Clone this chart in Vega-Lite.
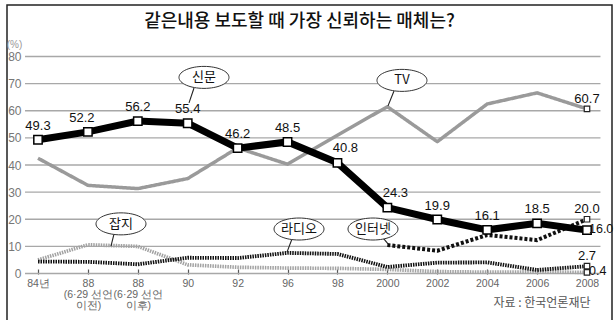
{
  "$schema": "https://vega.github.io/schema/vega-lite/v6.json",
  "width": 605,
  "height": 317,
  "autosize": {"type": "none"},
  "padding": {"left": 7, "top": 5, "right": 2, "bottom": -2},
  "background": "white",
  "config": {
    "view": {"stroke": "#222", "strokeWidth": 1.5},
    "font": "Noto Sans CJK KR"
  },
  "title": {
    "text": "같은내용 보도할 때 가장 신뢰하는 매체는?",
    "anchor": "middle",
    "dx": -10,
    "dy": 44,
    "offset": 0,
    "baseline": "bottom",
    "font": "Noto Sans CJK KR",
    "fontSize": 18,
    "fontWeight": 500,
    "color": "#111"
  },
  "datasets": {
    "trend": [
      {"media": "신문", "t": 0, "period": "84년", "share": 49.3},
      {"media": "신문", "t": 1, "period": "88 (6·29 선언 이전)", "share": 52.2},
      {"media": "신문", "t": 2, "period": "88 (6·29 선언 이후)", "share": 56.2},
      {"media": "신문", "t": 3, "period": "90", "share": 55.4},
      {"media": "신문", "t": 4, "period": "92", "share": 46.2},
      {"media": "신문", "t": 5, "period": "96", "share": 48.5},
      {"media": "신문", "t": 6, "period": "98", "share": 40.8},
      {"media": "신문", "t": 7, "period": "2000", "share": 24.3},
      {"media": "신문", "t": 8, "period": "2002", "share": 19.9},
      {"media": "신문", "t": 9, "period": "2004", "share": 16.1},
      {"media": "신문", "t": 10, "period": "2006", "share": 18.5},
      {"media": "신문", "t": 11, "period": "2008", "share": 16.0},
      {"media": "TV", "t": 0, "period": "84년", "share": 42.5},
      {"media": "TV", "t": 1, "period": "88 (6·29 선언 이전)", "share": 32.5},
      {"media": "TV", "t": 2, "period": "88 (6·29 선언 이후)", "share": 31.3},
      {"media": "TV", "t": 3, "period": "90", "share": 35.0},
      {"media": "TV", "t": 4, "period": "92", "share": 46.3},
      {"media": "TV", "t": 5, "period": "96", "share": 40.3},
      {"media": "TV", "t": 6, "period": "98", "share": 51.0},
      {"media": "TV", "t": 7, "period": "2000", "share": 61.5},
      {"media": "TV", "t": 8, "period": "2002", "share": 48.6},
      {"media": "TV", "t": 9, "period": "2004", "share": 62.5},
      {"media": "TV", "t": 10, "period": "2006", "share": 66.6},
      {"media": "TV", "t": 11, "period": "2008", "share": 60.7},
      {"media": "잡지", "t": 0, "period": "84년", "share": 5.0},
      {"media": "잡지", "t": 1, "period": "88 (6·29 선언 이전)", "share": 10.6},
      {"media": "잡지", "t": 2, "period": "88 (6·29 선언 이후)", "share": 10.0},
      {"media": "잡지", "t": 3, "period": "90", "share": 3.2},
      {"media": "잡지", "t": 4, "period": "92", "share": 2.3},
      {"media": "잡지", "t": 5, "period": "96", "share": 2.0},
      {"media": "잡지", "t": 6, "period": "98", "share": 1.9},
      {"media": "잡지", "t": 7, "period": "2000", "share": 1.5},
      {"media": "잡지", "t": 8, "period": "2002", "share": 0.7},
      {"media": "잡지", "t": 9, "period": "2004", "share": 0.5},
      {"media": "잡지", "t": 10, "period": "2006", "share": 0.6},
      {"media": "잡지", "t": 11, "period": "2008", "share": 0.4},
      {"media": "라디오", "t": 0, "period": "84년", "share": 4.4},
      {"media": "라디오", "t": 1, "period": "88 (6·29 선언 이전)", "share": 4.3},
      {"media": "라디오", "t": 2, "period": "88 (6·29 선언 이후)", "share": 3.4},
      {"media": "라디오", "t": 3, "period": "90", "share": 5.8},
      {"media": "라디오", "t": 4, "period": "92", "share": 5.7},
      {"media": "라디오", "t": 5, "period": "96", "share": 7.6},
      {"media": "라디오", "t": 6, "period": "98", "share": 7.2},
      {"media": "라디오", "t": 7, "period": "2000", "share": 2.4},
      {"media": "라디오", "t": 8, "period": "2002", "share": 4.0},
      {"media": "라디오", "t": 9, "period": "2004", "share": 4.1},
      {"media": "라디오", "t": 10, "period": "2006", "share": 1.3},
      {"media": "라디오", "t": 11, "period": "2008", "share": 2.7},
      {"media": "인터넷", "t": 7, "period": "2000", "share": 10.5},
      {"media": "인터넷", "t": 8, "period": "2002", "share": 8.4},
      {"media": "인터넷", "t": 9, "period": "2004", "share": 14.2},
      {"media": "인터넷", "t": 10, "period": "2006", "share": 12.3},
      {"media": "인터넷", "t": 11, "period": "2008", "share": 20.0}
    ],
    "grid": [
      {"share": 0}, {"share": 10}, {"share": 20}, {"share": 30}, {"share": 40},
      {"share": 50}, {"share": 60}, {"share": 70}, {"share": 80}
    ],
    "callouts": [
      {"label": "신문", "t": 3.326, "share": 72.3, "tailT": 3.126, "tailShare": 68.4, "tipT": 3.026, "tipShare": 62.9},
      {"label": "TV", "t": 7.293, "share": 71.2, "tailT": 7.133, "tailShare": 67.3, "tipT": 7.013, "tipShare": 61.8},
      {"label": "잡지", "t": 1.663, "share": 18.3, "tailT": 1.523, "tailShare": 14.6, "tipT": 1.463, "tipShare": 10.1},
      {"label": "라디오", "t": 5.23, "share": 16.4, "tailT": 5.089, "tailShare": 12.7, "tipT": 4.989, "tipShare": 7.9},
      {"label": "인터넷", "t": 6.712, "share": 16.4, "tailT": 6.913, "tailShare": 13.1, "tipT": 7.013, "tipShare": 10.9}
    ]
  },
  "layer": [
    {
      "data": {"name": "grid"},
      "mark": {"type": "rule", "color": "#a8a8a8", "strokeWidth": 1.4},
      "encoding": {
        "y": {
          "field": "share", "type": "quantitative",
          "scale": {"domain": [-17.88, 98.99], "nice": false, "zero": false},
          "axis": {
            "orient": "left", "offset": -15,
            "values": [0, 10, 20, 30, 40, 50, 60, 70, 80],
            "domain": false, "ticks": false, "grid": false,
            "labelOverlap": false, "labelBound": false, "labelFlush": false,
            "labelPadding": 1, "labelFont": "Liberation Sans",
            "labelFontSize": 12, "labelColor": "#777",
            "title": "(%)", "titleAngle": 0, "titleX": -8, "titleY": 39,
            "titleAlign": "center", "titleBaseline": "middle",
            "titleFont": "Liberation Sans",
            "titleFontSize": 10, "titleFontWeight": "normal", "titleColor": "#999"
          }
        },
        "x": {
          "datum": -0.26, "type": "quantitative",
          "scale": {"domain": [-0.621, 11.501], "nice": false, "zero": false},
          "axis": {
            "orient": "bottom", "offset": -53,
            "values": [0, 1, 2, 3, 4, 5, 6, 7, 8, 9, 10, 11],
            "labelExpr": "datum.value == 0 ? '84년' : datum.value == 1 ? ['88', '(6·29 선언', '이전)'] : datum.value == 2 ? ['88', '(6·29 선언', '이후)'] : datum.value == 3 ? '90' : datum.value == 4 ? '92' : datum.value == 5 ? '96' : datum.value == 6 ? '98' : datum.value == 7 ? '2000' : datum.value == 8 ? '2002' : datum.value == 9 ? '2004' : datum.value == 10 ? '2006' : '2008'",
            "domain": false, "grid": false,
            "ticks": true, "tickSize": 5, "tickColor": "#555", "tickWidth": 1.2,
            "labelPadding": 4, "labelFont": "Liberation Sans",
            "labelFontSize": 10.5, "labelColor": "#666", "labelLineHeight": 11,
            "labelOverlap": false, "labelBound": false, "labelFlush": false,
            "title": "자료 : 한국언론재단",
            "titleX": 583, "titleY": 33, "titleAlign": "right", "titleAnchor": "end",
            "titleBaseline": "middle", "titleFont": "Noto Sans CJK KR",
            "titleFontSize": 12, "titleFontWeight": "normal", "titleColor": "#555"
          }
        },
        "x2": {"datum": 11.27}
      }
    },
    {
      "data": {"name": "trend"},
      "transform": [{"filter": "datum.media != '신문'"}],
      "mark": {"type": "line", "strokeCap": "butt", "strokeJoin": "round"},
      "encoding": {
        "x": {"field": "t", "type": "quantitative", "axis": {"values": [0, 1, 2, 3, 4, 5, 6, 7, 8, 9, 10, 11]}},
        "y": {"field": "share", "type": "quantitative", "axis": {"values": [0, 10, 20, 30, 40, 50, 60, 70, 80]}},
        "detail": {"field": "media"},
        "color": {
          "field": "media", "type": "nominal", "legend": null,
          "scale": {"domain": ["TV", "잡지", "라디오", "인터넷"], "range": ["#9a9a9a", "#a2a2a2", "#111111", "#111111"]}
        },
        "strokeWidth": {
          "field": "media", "type": "nominal", "legend": null,
          "scale": {"domain": ["TV", "잡지", "라디오", "인터넷"], "range": [3.5, 4, 4, 3.5]}
        },
        "strokeDash": {
          "field": "media", "type": "nominal", "legend": null,
          "scale": {"domain": ["TV", "잡지", "라디오", "인터넷"], "range": [[1, 0], [1.5, 1], [1.5, 1], [3, 2]]}
        }
      }
    },
    {
      "data": {"name": "trend"},
      "transform": [{"filter": "datum.media == '신문'"}],
      "mark": {"type": "line", "color": "#000", "strokeWidth": 7, "strokeJoin": "miter"},
      "encoding": {
        "x": {"field": "t", "type": "quantitative", "axis": {"values": [0, 1, 2, 3, 4, 5, 6, 7, 8, 9, 10, 11]}},
        "y": {"field": "share", "type": "quantitative", "axis": {"values": [0, 10, 20, 30, 40, 50, 60, 70, 80]}}
      }
    },
    {
      "data": {"name": "trend"},
      "transform": [{"filter": "datum.media == '신문'"}],
      "mark": {"type": "point", "shape": "square", "size": 70, "filled": true, "fill": "white", "stroke": "#000", "strokeWidth": 1.5, "opacity": 1},
      "encoding": {
        "x": {"field": "t", "type": "quantitative", "axis": {"values": [0, 1, 2, 3, 4, 5, 6, 7, 8, 9, 10, 11]}},
        "y": {"field": "share", "type": "quantitative", "axis": {"values": [0, 10, 20, 30, 40, 50, 60, 70, 80]}}
      }
    },
    {
      "data": {"name": "trend"},
      "transform": [{"filter": "datum.media != '신문' && datum.t == 11"}],
      "mark": {"type": "point", "shape": "square", "size": 30, "filled": true, "fill": "white", "stroke": "#222", "strokeWidth": 1.2, "opacity": 1},
      "encoding": {
        "x": {"field": "t", "type": "quantitative", "axis": {"values": [0, 1, 2, 3, 4, 5, 6, 7, 8, 9, 10, 11]}},
        "y": {"field": "share", "type": "quantitative", "axis": {"values": [0, 10, 20, 30, 40, 50, 60, 70, 80]}}
      }
    },
    {
      "data": {"name": "trend"},
      "transform": [{"filter": "datum.media == '신문' && datum.t < 11 && datum.t != 1 && datum.t != 6 && datum.t != 7"}],
      "mark": {"type": "text", "dy": -14, "font": "Liberation Sans", "fontSize": 13, "color": "#111"},
      "encoding": {
        "x": {"field": "t", "type": "quantitative", "axis": {"values": [0, 1, 2, 3, 4, 5, 6, 7, 8, 9, 10, 11]}},
        "y": {"field": "share", "type": "quantitative", "axis": {"values": [0, 10, 20, 30, 40, 50, 60, 70, 80]}},
        "text": {"field": "share", "type": "quantitative", "format": ".1f"}
      }
    },
    {
      "data": {"name": "trend"},
      "transform": [{"filter": "datum.media == '신문' && datum.t == 1"}],
      "mark": {"type": "text", "dy": -14, "dx": -6, "font": "Liberation Sans", "fontSize": 13, "color": "#111"},
      "encoding": {
        "x": {"field": "t", "type": "quantitative", "axis": {"values": [0, 1, 2, 3, 4, 5, 6, 7, 8, 9, 10, 11]}},
        "y": {"field": "share", "type": "quantitative", "axis": {"values": [0, 10, 20, 30, 40, 50, 60, 70, 80]}},
        "text": {"field": "share", "type": "quantitative", "format": ".1f"}
      }
    },
    {
      "data": {"name": "trend"},
      "transform": [{"filter": "datum.media == '신문' && (datum.t == 6 || datum.t == 7)"}],
      "mark": {"type": "text", "dy": -15, "dx": 8, "font": "Liberation Sans", "fontSize": 13, "color": "#111"},
      "encoding": {
        "x": {"field": "t", "type": "quantitative", "axis": {"values": [0, 1, 2, 3, 4, 5, 6, 7, 8, 9, 10, 11]}},
        "y": {"field": "share", "type": "quantitative", "axis": {"values": [0, 10, 20, 30, 40, 50, 60, 70, 80]}},
        "text": {"field": "share", "type": "quantitative", "format": ".1f"}
      }
    },
    {
      "data": {"name": "trend"},
      "transform": [{"filter": "datum.t == 11 && (datum.media == 'TV' || datum.media == '인터넷' || datum.media == '라디오')"}],
      "mark": {"type": "text", "dy": -10, "font": "Liberation Sans", "fontSize": 13, "color": "#111"},
      "encoding": {
        "x": {"field": "t", "type": "quantitative", "axis": {"values": [0, 1, 2, 3, 4, 5, 6, 7, 8, 9, 10, 11]}},
        "y": {"field": "share", "type": "quantitative", "axis": {"values": [0, 10, 20, 30, 40, 50, 60, 70, 80]}},
        "text": {"field": "share", "type": "quantitative", "format": ".1f"}
      }
    },
    {
      "data": {"name": "trend"},
      "transform": [{"filter": "datum.t == 11 && (datum.media == '신문' || datum.media == '잡지')"}],
      "mark": {"type": "text", "align": "left", "dx": 2, "dy": -1.5, "font": "Liberation Sans", "fontSize": 12.5, "color": "#111"},
      "encoding": {
        "x": {"field": "t", "type": "quantitative", "axis": {"values": [0, 1, 2, 3, 4, 5, 6, 7, 8, 9, 10, 11]}},
        "y": {"field": "share", "type": "quantitative", "axis": {"values": [0, 10, 20, 30, 40, 50, 60, 70, 80]}},
        "text": {"field": "share", "type": "quantitative", "format": ".1f"}
      }
    },
    {
      "data": {"name": "callouts"},
      "mark": {"type": "rule", "color": "#222", "strokeWidth": 1.1},
      "encoding": {
        "x": {"field": "tailT", "type": "quantitative", "axis": {"values": [0, 1, 2, 3, 4, 5, 6, 7, 8, 9, 10, 11]}},
        "y": {"field": "tailShare", "type": "quantitative", "axis": {"values": [0, 10, 20, 30, 40, 50, 60, 70, 80]}},
        "x2": {"field": "tipT"},
        "y2": {"field": "tipShare"}
      }
    },
    {
      "data": {"name": "callouts"},
      "mark": {
        "type": "point",
        "shape": "M -1 0 A 1 0.44 0 1 0 1 0 A 1 0.44 0 1 0 -1 0 Z",
        "size": 2500, "filled": true, "fill": "white", "stroke": "#333", "strokeWidth": 1, "opacity": 1
      },
      "encoding": {
        "x": {"field": "t", "type": "quantitative", "axis": {"values": [0, 1, 2, 3, 4, 5, 6, 7, 8, 9, 10, 11]}},
        "y": {"field": "share", "type": "quantitative", "axis": {"values": [0, 10, 20, 30, 40, 50, 60, 70, 80]}}
      }
    },
    {
      "data": {"name": "callouts"},
      "mark": {"type": "text", "font": "Noto Sans CJK KR", "fontSize": 13, "color": "#111", "baseline": "middle"},
      "encoding": {
        "x": {"field": "t", "type": "quantitative", "axis": {"values": [0, 1, 2, 3, 4, 5, 6, 7, 8, 9, 10, 11]}},
        "y": {"field": "share", "type": "quantitative", "axis": {"values": [0, 10, 20, 30, 40, 50, 60, 70, 80]}},
        "text": {"field": "label"}
      }
    }
  ]
}
